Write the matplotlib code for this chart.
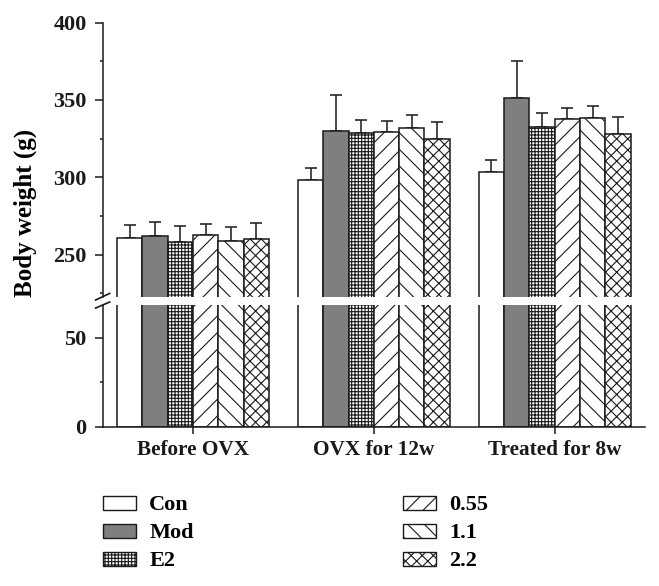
import numpy as np
import matplotlib.pyplot as plt
from matplotlib.patches import Patch

plt.rcParams['font.family'] = ['Liberation Serif', 'DejaVu Serif']
plt.rcParams['font.weight'] = 'bold'
plt.rcParams['hatch.linewidth'] = 0.8
plt.rcParams['hatch.color'] = '#222222'

groups = ['Before OVX', 'OVX for 12w', 'Treated for 8w']
names = ['Con', 'Mod', 'E2', '0.55', '1.1', '2.2']

con = [260.5, 298.3, 303.6]
con_sd = [8.6, 7.9, 7.6]
mod = [261.8, 329.7, 351.1]
mod_sd = [9.5, 23.5, 24.1]
e2 = [258.4, 328.9, 332.3]
e2_sd = [10.3, 8.2, 9.1]
d055 = [262.7, 329.3, 337.5]
d055_sd = [6.9, 7.3, 7.5]
d11 = [258.6, 332.1, 338.4]
d11_sd = [9.3, 8.4, 7.7]
d22 = [260.1, 324.8, 328.2]
d22_sd = [10.2, 10.8, 10.8]

means = [con, mod, e2, d055, d11, d22]
sds = [con_sd, mod_sd, e2_sd, d055_sd, d11_sd, d22_sd]
fills = ['white', '#7f7f7f', 'white', 'white', 'white', 'white']
hatches = [None, None, '+++++', '//', '\\\\', 'xxx']

edge = '#1a1a1a'
fs = 16
fig = plt.figure(figsize=(6.59, 5.86), dpi=100)
ax_top = fig.add_axes([0.1558, 0.4937, 0.823, 0.4676])
ax_bot = fig.add_axes([0.1558, 0.2718, 0.823, 0.2077])

x = np.arange(len(groups))
w = 0.14
for i in range(6):
    pos = x + (i - 2.5) * w
    for ax in (ax_top, ax_bot):
        ax.bar(pos, means[i], w, color=fills[i], edgecolor=edge,
               linewidth=1.1, hatch=hatches[i], zorder=2)
    ax_top.errorbar(pos, means[i], yerr=[np.zeros(3), sds[i]], fmt='none',
                    ecolor='#2a2a2a', elinewidth=1.2, capsize=4.2,
                    capthick=1.2, zorder=1)

ax_top.set_ylim(222.8, 400)
ax_bot.set_ylim(0, 68.4)
for ax in (ax_top, ax_bot):
    ax.set_xlim(-0.5, 2.5)
    ax.spines['right'].set_visible(False)
    ax.spines['top'].set_visible(False)
    for s in ('left', 'bottom'):
        ax.spines[s].set_linewidth(1.1)
        ax.spines[s].set_color(edge)
    ax.tick_params(axis='y', which='major', length=5.5, width=1.1,
                   labelsize=fs, pad=6, colors=edge)
    ax.tick_params(axis='y', which='minor', length=2.5, width=1.1, colors=edge)
    ax.tick_params(axis='x', length=5, width=1.1, labelsize=15.3, pad=4.5,
                   colors=edge)

ax_top.spines['bottom'].set_visible(False)
ax_top.set_xticks([])
ax_top.set_yticks([250, 300, 350, 400])
ax_top.set_yticks([225, 275, 325, 375], minor=True)
ax_bot.set_yticks([0, 50])
ax_bot.set_yticks([25], minor=True)
ax_bot.set_xticks(x)
ax_bot.set_xticklabels(groups)

# break marks on the y axis
kw = dict(color=edge, linewidth=1.2, clip_on=False)
ax_top.plot([-0.013, 0.013], [-0.012, 0.012], transform=ax_top.transAxes, **kw)
ax_bot.plot([-0.013, 0.013], [0.975, 1.025], transform=ax_bot.transAxes, **kw)

fig.text(0.038, 0.636, 'Body weight (g)', rotation=90, ha='center',
         va='center', fontsize=18)

handles = [Patch(facecolor=fills[i], edgecolor=edge, hatch=hatches[i],
                 linewidth=1.0) for i in range(6)]
lkw = dict(frameon=False, fontsize=fs, handlelength=1.5, handleheight=0.58,
           handletextpad=0.6, labelspacing=0.36, borderpad=0,
           borderaxespad=0, loc='upper left')
fig.legend(handles[:3], names[:3], bbox_to_anchor=(0.1558, 0.1545), **lkw)
fig.legend(handles[3:], names[3:], bbox_to_anchor=(0.611, 0.1545), **lkw)

fig.savefig('out.png', dpi=100)
